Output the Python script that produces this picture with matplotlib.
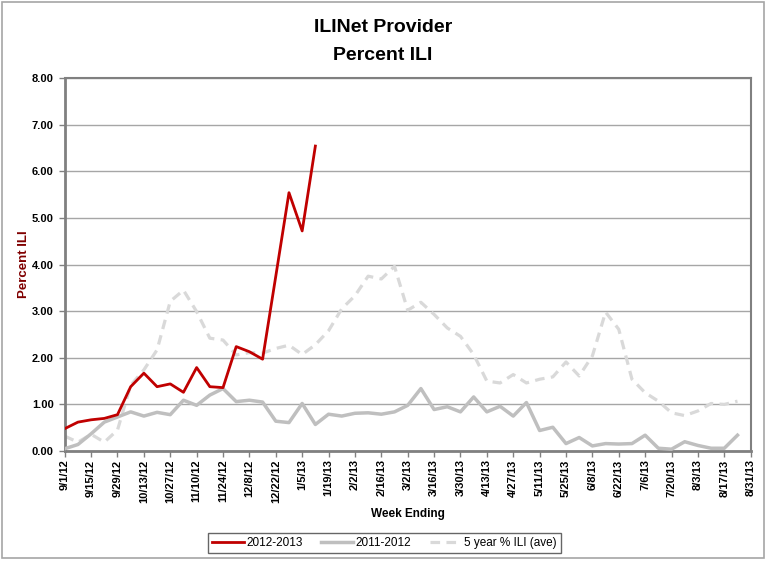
import matplotlib
matplotlib.use("Agg")
import matplotlib.pyplot as plt
from matplotlib.patches import Rectangle

plt.rcParams['font.family'] = ['Liberation Sans', 'DejaVu Sans']

# weekly category axis: 9/1/12 .. 8/31/13 (53 weeks)
week_labels = ["9/1/12", "9/15/12", "9/29/12", "10/13/12", "10/27/12", "11/10/12",
               "11/24/12", "12/8/12", "12/22/12", "1/5/13", "1/19/13", "2/2/13",
               "2/16/13", "3/2/13", "3/16/13", "3/30/13", "4/13/13", "4/27/13",
               "5/11/13", "5/25/13", "6/8/13", "6/22/13", "7/6/13", "7/20/13",
               "8/3/13", "8/17/13", "8/31/13"]

ili_2012_13 = [0.48, 0.62, 0.67, 0.70, 0.78, 1.38, 1.67, 1.38, 1.44, 1.26,
               1.79, 1.38, 1.36, 2.24, 2.13, 1.97, 3.75, 5.54, 4.72, 6.54]

ili_2011_12 = [0.05, 0.14, 0.37, 0.62, 0.73, 0.84, 0.75, 0.83, 0.78, 1.09,
               0.98, 1.20, 1.34, 1.06, 1.09, 1.05, 0.64, 0.61, 1.02, 0.57,
               0.79, 0.75, 0.81, 0.82, 0.79, 0.84, 0.98, 1.34, 0.89, 0.95,
               0.84, 1.16, 0.84, 0.96, 0.75, 1.04, 0.44, 0.51, 0.16, 0.29,
               0.11, 0.16, 0.15, 0.16, 0.34, 0.06, 0.04, 0.20, 0.12, 0.06,
               0.06, 0.34]

ili_5yr = [0.32, 0.19, 0.36, 0.19, 0.45, 1.41, 1.74, 2.17, 3.21, 3.45,
           2.99, 2.42, 2.38, 2.06, 2.11, 2.10, 2.20, 2.27, 2.07, 2.28,
           2.58, 3.05, 3.33, 3.75, 3.69, 3.96, 3.02, 3.19, 2.93, 2.64,
           2.46, 2.07, 1.50, 1.46, 1.64, 1.46, 1.54, 1.59, 1.91, 1.61,
           2.04, 2.98, 2.61, 1.54, 1.25, 1.07, 0.82, 0.76, 0.86, 1.02,
           1.00, 1.07]

fig = plt.figure(figsize=(7.66, 5.61), dpi=100)
ax = fig.add_axes([0.0845, 0.196, 0.8955, 0.665])

ax.plot(range(len(ili_5yr)), ili_5yr, color='#D9D9D9', lw=2.3,
        linestyle=(0, (3, 2)), label='5 year % ILI (ave)', zorder=2)
ax.plot(range(len(ili_2011_12)), ili_2011_12, color='#BFBFBF', lw=2.5,
        label='2011-2012', zorder=3)
ax.plot(range(len(ili_2012_13)), ili_2012_13, color='#C00000', lw=2.0,
        label='2012-2013', zorder=4)

ax.set_xlim(0, 52)
ax.set_ylim(0, 8)
ax.set_yticks(range(0, 9))
ax.set_yticklabels([f"{v:.2f}" for v in range(0, 9)], fontsize=8, fontweight='bold')
ax.set_xticks(range(0, 53, 2))
ax.set_xticklabels(week_labels, rotation=90, fontsize=8, fontweight='bold')
ax.tick_params(axis='both', direction='out', length=4, width=1, color='#808080', pad=2)
ax.tick_params(axis='y', pad=4)

ax.grid(axis='y', color='#A6A6A6', lw=1)
ax.set_axisbelow(True)
for side in ['top', 'right']:
    ax.spines[side].set_color('#808080')
    ax.spines[side].set_linewidth(1.5)
for side in ['left', 'bottom']:
    ax.spines[side].set_color('#808080')
    ax.spines[side].set_linewidth(2)

ax.set_xlabel('Week Ending', fontsize=8.5, fontweight='bold', labelpad=4)
ax.set_ylabel('Percent ILI', fontsize=9.5, fontweight='bold', color='#800000', labelpad=1)

fig.text(0.5, 1 - 28 / 561, 'ILINet Provider', ha='center', va='center',
         fontsize=14, fontweight='bold')
fig.text(0.5, 1 - 55 / 561, 'Percent ILI', ha='center', va='center',
         fontsize=14, fontweight='bold')

handles, labels = ax.get_legend_handles_labels()
order = [2, 1, 0]
leg = fig.legend([handles[i] for i in order], [labels[i] for i in order],
                 loc='center', bbox_to_anchor=(0.502, 1 - 543 / 561), ncol=3,
                 fontsize=8.5, frameon=True, fancybox=False, handlelength=2.7,
                 columnspacing=1.6, borderpad=0.35, handletextpad=0.2)
leg.get_frame().set_edgecolor('#404040')
leg.get_frame().set_linewidth(1)

fig.patches.append(Rectangle((0.002, 0.005), 0.996, 0.992, transform=fig.transFigure,
                             fill=False, edgecolor='#A6A6A6', lw=1.2))

fig.savefig('out.png', dpi=100)
